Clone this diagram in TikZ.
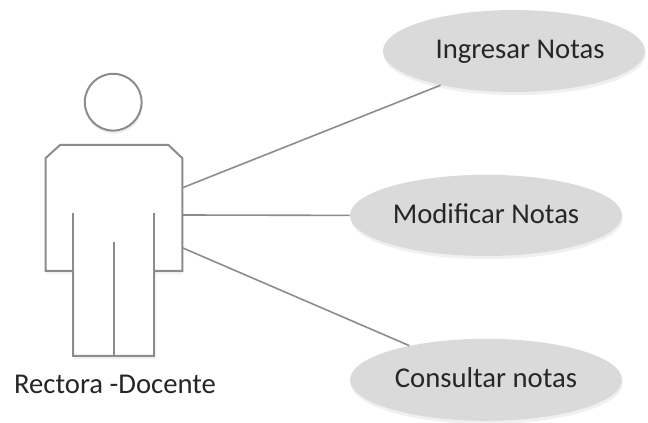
\documentclass[tikz,border=0pt]{standalone}
\usepackage{fontspec}
\setmainfont{Carlito}
\usetikzlibrary{shapes.geometric,shadows}
\definecolor{linegray}{HTML}{8C8C8C}
\definecolor{fillgray}{HTML}{DADADA}
\definecolor{textgray}{HTML}{262626}
\tikzset{
	actorline/.style={line width=0.5mm, color=linegray},
	linkline/.style={line width=0.4mm, color=linegray},
	softshadow/.style={drop shadow={shadow xshift=0.02, shadow yshift=-0.08, opacity=0.15, fill=black!40}},
	usecase/.style={ellipse, fill=fillgray, text=textgray, inner sep=0, softshadow, text height=0.5cm, text depth=0.1cm, font=\fontsize{20.4}{24}\selectfont},
	actorname/.style={text=textgray, inner sep=0, font=\fontsize{20.4}{24}\selectfont}
}
\begin{document}
\begin{tikzpicture}
	\useasboundingbox (0, 0) rectangle (16.2, 10.575);
	%%%%% ACTOR %%%%%
	\draw[actorline, fill=white, softshadow] (1.14, 6.62) -- (1.5, 6.95) -- (4.21, 6.95) -- (4.56, 6.62) -- (4.56, 3.8) -- (3.85, 3.8) -- (3.85, 1.68) -- (1.83, 1.68) -- (1.83, 3.8) -- (1.14, 3.8) -- cycle;
	\draw[actorline] (1.83, 5.25) -- (1.83, 3.8);
	\draw[actorline] (3.85, 5.25) -- (3.85, 3.8);
	\draw[actorline] (2.85, 4.53) -- (2.85, 1.68);
	\draw[actorline, fill=white, softshadow] (2.83, 8.02) circle (0.71);
	\node[actorname] (rectora) at (2.875, 0.975) {Rectora -Docente};
	\coordinate (armtop) at (4.56, 5.88);
	\coordinate (armmid) at (4.56, 5.2);
	\coordinate (armlow) at (4.56, 4.38);
	%%%%% CASES %%%%%
	\node[usecase, minimum width=6.55cm, minimum height=2.05cm] (ingresar) at (12.85, 9.3) {\hspace*{0.3cm}Ingresar Notas};
	\node[usecase, minimum width=6.8cm, minimum height=2.03cm] (modificar) at (12.15, 5.19) {Modificar Notas};
	\node[usecase, minimum width=6.8cm, minimum height=2.05cm] (consultar) at (12.15, 1.08) {Consultar notas};
	%%%%% LINKS %%%%%
	\draw[linkline] (armtop) -- (ingresar.205);
	\draw[linkline] (armmid) -- (modificar.180);
	\draw[linkline] (armlow) -- (consultar.156);
\end{tikzpicture}
\end{document}
